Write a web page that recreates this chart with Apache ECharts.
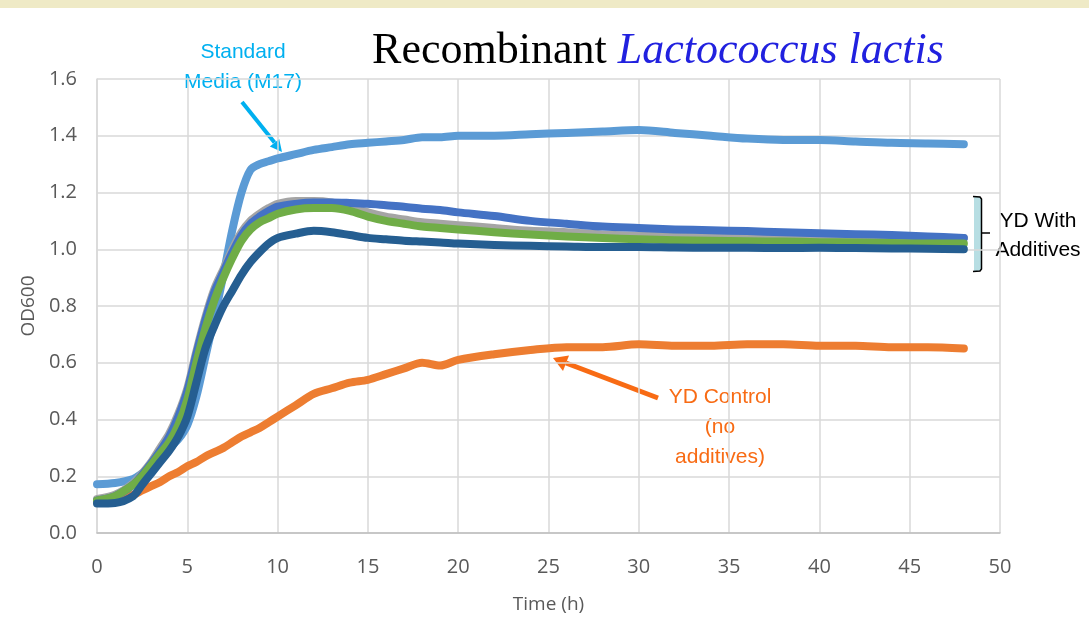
<!DOCTYPE html>
<html>
<head>
<meta charset="utf-8">
<script src="https://cdn.jsdelivr.net/npm/echarts@6/dist/echarts.min.js"></script>
<style>
html,body{margin:0;padding:0;background:#fff;}
#c{width:1089px;height:634px;}
</style>
</head>
<body>
<div id="c"></div>
<script>
// Time points (h)
var times = [0,1,2,2.5,3,3.5,4,4.5,5,5.5,6,6.5,7,7.5,8,8.5,9,9.5,10,11,12,13,14,15,16,17,18,19,20,22,24,26,28,30,32,34,36,38,40,42,44,46,48];
// Standard Media (M17)
var standardM17 = [0.172,0.176,0.19,0.21,0.23,0.26,0.30,0.33,0.38,0.48,0.62,0.76,0.91,1.07,1.20,1.28,1.30,1.31,1.32,1.335,1.35,1.36,1.37,1.375,1.38,1.385,1.395,1.395,1.40,1.40,1.405,1.41,1.415,1.42,1.41,1.40,1.39,1.385,1.385,1.38,1.375,1.373,1.37];
// YD Control (no additives)
var ydControl = [0.11,0.115,0.135,0.15,0.165,0.18,0.20,0.215,0.235,0.25,0.27,0.285,0.30,0.32,0.34,0.355,0.37,0.39,0.41,0.45,0.49,0.51,0.53,0.54,0.56,0.58,0.60,0.59,0.61,0.63,0.645,0.655,0.655,0.665,0.66,0.66,0.665,0.665,0.66,0.66,0.655,0.655,0.65];
// YD with additives (four runs)
var ydAddGrey = [0.12,0.135,0.175,0.21,0.25,0.30,0.35,0.42,0.51,0.64,0.76,0.86,0.93,1.00,1.06,1.10,1.125,1.145,1.16,1.17,1.17,1.165,1.15,1.13,1.115,1.105,1.095,1.09,1.085,1.075,1.065,1.06,1.052,1.048,1.045,1.043,1.042,1.041,1.04,1.04,1.04,1.04,1.04];
var ydAddBlue = [0.115,0.13,0.17,0.205,0.245,0.29,0.34,0.41,0.50,0.63,0.75,0.85,0.92,0.99,1.05,1.09,1.115,1.135,1.15,1.16,1.165,1.165,1.163,1.16,1.155,1.15,1.143,1.138,1.13,1.117,1.10,1.09,1.08,1.075,1.07,1.067,1.064,1.06,1.056,1.053,1.05,1.045,1.04];
var ydAddGreen = [0.115,0.13,0.17,0.20,0.24,0.28,0.32,0.38,0.47,0.60,0.72,0.82,0.90,0.97,1.03,1.07,1.095,1.11,1.125,1.14,1.145,1.145,1.135,1.115,1.10,1.09,1.08,1.075,1.07,1.06,1.052,1.045,1.04,1.035,1.032,1.03,1.028,1.027,1.025,1.024,1.022,1.02,1.02];
var ydAddNavy = [0.104,0.106,0.13,0.17,0.21,0.25,0.29,0.34,0.41,0.53,0.65,0.73,0.80,0.855,0.91,0.955,0.99,1.02,1.04,1.055,1.065,1.06,1.05,1.04,1.035,1.03,1.027,1.024,1.02,1.015,1.012,1.01,1.008,1.008,1.006,1.005,1.005,1.004,1.005,1.004,1.003,1.002,1.0];
// Axis ticks
var xTicks = {min:0, max:50, interval:5};
var yTicks = {min:0, max:1.6, interval:0.2};

function pairs(vals){ return times.map(function(t,i){ return [t, vals[i]]; }); }
function mk(name, vals, color, w){
  return {name:name, type:'line', data:pairs(vals), showSymbol:false, symbol:'none',
    smooth:0.3,
    lineStyle:{color:color, width:w, cap:'round', join:'round'}, itemStyle:{color:color}, z:2};
}

var chart = echarts.init(document.getElementById('c'), null, {renderer:'canvas'});
var font = "'Open Sans', sans-serif";
var option = {
  animation:false,
  backgroundColor:'#ffffff',
  grid:{left:97, right:89, top:79, bottom:101, containLabel:false},
  xAxis:{type:'value', min:xTicks.min, max:xTicks.max, interval:xTicks.interval,
    name:'Time (h)', nameLocation:'middle', nameGap:62,
    nameTextStyle:{fontFamily:font, fontSize:19, color:'#595959'},
    axisLine:{show:true, lineStyle:{color:'#bfbfbf', width:1.5}},
    axisTick:{show:false},
    axisLabel:{fontFamily:font, fontSize:20, color:'#595959', margin:24},
    splitLine:{show:true, lineStyle:{color:'#d9d9d9', width:1.5}}},
  yAxis:{type:'value', min:yTicks.min, max:yTicks.max, interval:yTicks.interval,
    name:'OD600', nameLocation:'middle', nameGap:55, nameRotate:90,
    nameTextStyle:{fontFamily:font, fontSize:19, color:'#595959'},
    axisLine:{show:true, lineStyle:{color:'#d9d9d9', width:1.5}},
    axisTick:{show:false},
    axisLabel:{fontFamily:font, fontSize:20, color:'#595959', margin:20,
      formatter:function(v){ return v.toFixed(1); }},
    splitLine:{show:true, lineStyle:{color:'#d9d9d9', width:1.5}}},
  series:[
    mk('Standard Media (M17)', standardM17, '#5b9bd5', 8),
    mk('YD Control', ydControl, '#ed7d31', 8),
    mk('YD + additive A', ydAddGrey, '#a5a5a5', 8),
    mk('YD + additive B', ydAddBlue, '#4472c4', 8),
    mk('YD + additive C', ydAddGreen, '#70ad47', 8),
    mk('YD + additive D', ydAddNavy, '#255e91', 8)
  ],
  graphic:[
    {type:'rect', shape:{x:0, y:0, width:1089, height:8}, style:{fill:'#efeac6'}, silent:true},
    {type:'text', x:658, y:51, style:{
      text:'{a|Recombinant }{b|Lactococcus lactis}', textAlign:'center', textVerticalAlign:'middle',
      rich:{a:{fontFamily:"'Liberation Serif', serif", fontSize:44, fill:'#000000', color:'#000000'},
            b:{fontFamily:"'Liberation Serif', serif", fontSize:44, fontStyle:'italic', fill:'#2121df', color:'#2121df'}}}},
    {type:'text', x:243, y:67, style:{text:'Standard\nMedia (M17)', textAlign:'center', textVerticalAlign:'middle',
      fontFamily:"'Liberation Sans', Arial, sans-serif", fontSize:21, lineHeight:30, fill:'#00b0f0'}},
    {type:'line', shape:{x1:242, y1:102, x2:274.5, y2:142.6}, style:{stroke:'#00b0f0', lineWidth:4}},
    {type:'polygon', shape:{points:[[282,152],[279.2,138.9],[269.8,146.4]]}, style:{fill:'#00b0f0'}},
    {type:'text', x:720, y:427, style:{text:'YD Control\n(no\nadditives)', textAlign:'center', textVerticalAlign:'middle',
      fontFamily:"'Liberation Sans', Arial, sans-serif", fontSize:21, lineHeight:30, fill:'#f86b14'}},
    {type:'line', shape:{x1:658, y1:398, x2:566, y2:363}, style:{stroke:'#f86b14', lineWidth:5}},
    {type:'polygon', shape:{points:[[553,358],[569,355.5],[563,371]]}, style:{fill:'#f86b14'}},
    {type:'rect', shape:{x:974, y:197, width:7, height:74}, style:{fill:'#b7dee3'}},
    {type:'polyline', shape:{points:[[973,196.5],[980,197],[981.5,199],[981.5,269],[980,271],[973,271.5]]}, style:{stroke:'#000', lineWidth:1.5, fill:null}},
    {type:'line', shape:{x1:981.5, y1:233, x2:990, y2:233}, style:{stroke:'#000', lineWidth:1.5}},
    {type:'text', x:1038, y:236, style:{text:'YD With\nAdditives', textAlign:'center', textVerticalAlign:'middle',
      fontFamily:"'Liberation Sans', Arial, sans-serif", fontSize:21, lineHeight:29, fill:'#000000'}}
  ]
};
chart.setOption(option);
</script>
</body>
</html>
